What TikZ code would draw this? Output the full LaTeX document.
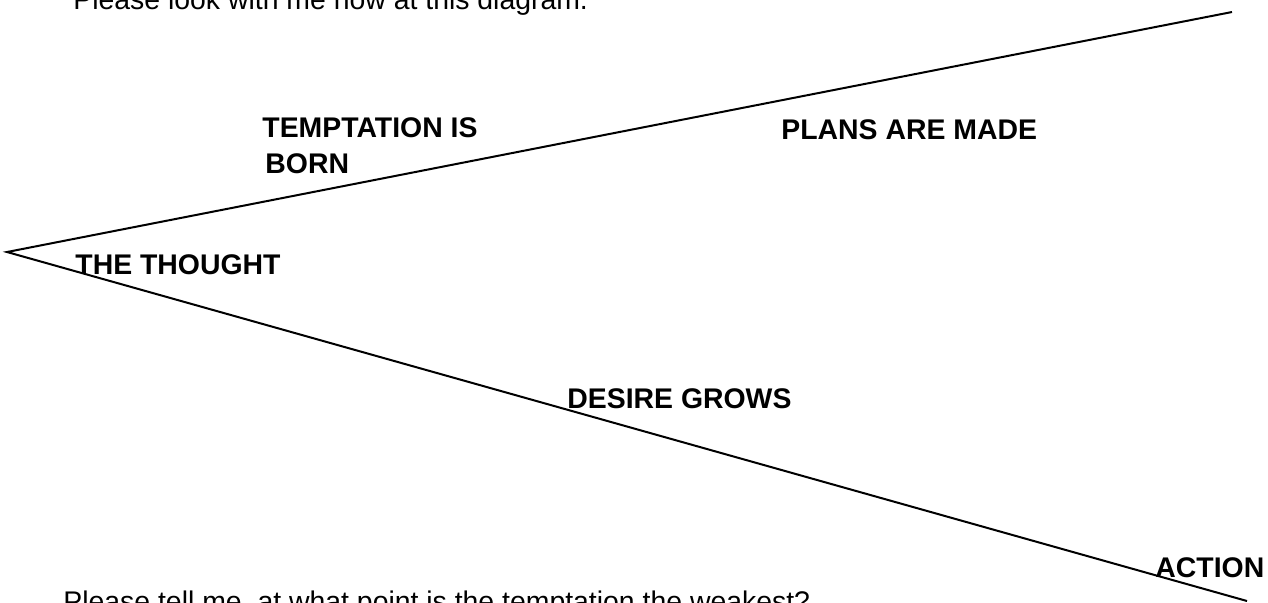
\documentclass[tikz,border=0pt]{standalone}
\usepackage{fontspec}
\setmainfont{Liberation Sans}
\usepackage{tikz}

\tikzset{
	lbl/.style={anchor=base west,inner sep=0pt,font=\fontsize{14.2}{18}\selectfont\bfseries,align=left},
	txt/.style={anchor=base west,inner sep=0pt,font=\fontsize{14.2}{17}\selectfont}
}

\begin{document}
\begin{tikzpicture}[x=0.5pt,y=-0.5pt]
				\useasboundingbox (0,0) rectangle (1268,602);
				\coordinate (c1) at (7,252);%apex
				\coordinate (c2) at (1232,12);%upper end
				\coordinate (c3) at (1247,601);%lower end
				
				\node[txt] (intro) at (73,9.5) {Please look with me now at this diagram.};
				\node[txt] (question) at (63,611) {Please tell me, at what point is the temptation the weakest?};
				
				\draw[line width=1pt] (c2) -- (c1) -- (c3);
				
				\node[lbl] (thought) at (75,274) {THE THOUGHT};
				\node[lbl] (temptation) at (262,173) {TEMPTATION IS\\\hspace{1.5pt}BORN};%base = last line
				\node[lbl] (plans) at (781,139) {PLANS ARE MADE};
				\node[lbl] (desire) at (567,408) {DESIRE GROWS};
				\node[lbl] (action) at (1155,577) {ACTION};
			\end{tikzpicture}
\end{document}
